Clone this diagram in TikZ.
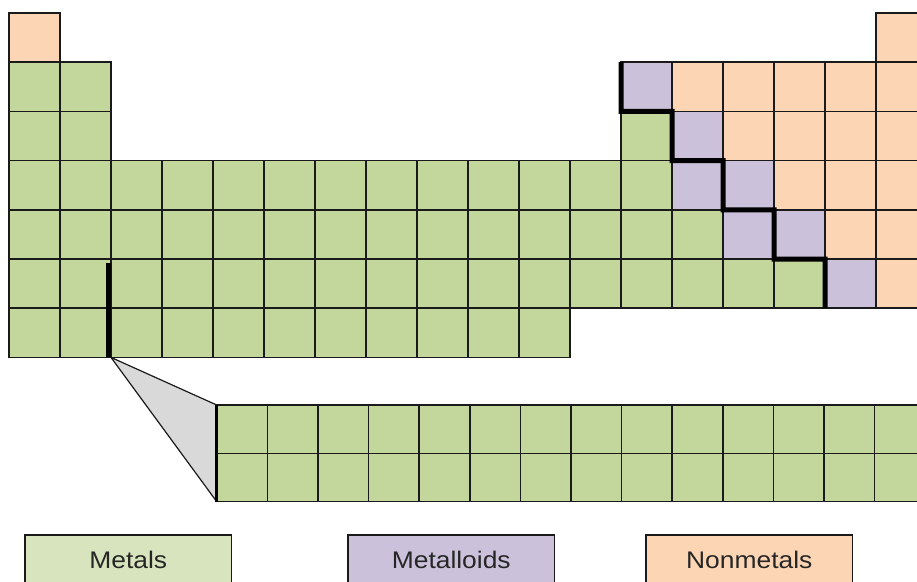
\documentclass[tikz,border=0pt]{standalone}
\usepackage{fontspec}
\newfontfamily\legendfont[FakeStretch=1.1]{Liberation Sans}
\usetikzlibrary{calc}
\definecolor{metal}{HTML}{C3D69B}
\definecolor{metalloid}{HTML}{CCC1DA}
\definecolor{nonmetal}{HTML}{FCD5B5}
\definecolor{metallegend}{HTML}{D7E4BD}
\definecolor{gridline}{HTML}{1A1A1A}
\definecolor{wedge}{HTML}{D9D9D9}
\definecolor{legendtext}{HTML}{262626}
\newcommand\pcell[3]{\node[cell, fill=#3] (c-#1-#2) at ({9+(#2-1)*51},{13+(#1-1)*49.2}) {};}
\begin{document}
\begin{tikzpicture}[x=1pt,y=-1pt,
  cell/.style={draw=gridline, line width=1.6pt, minimum width=51pt, minimum height=49.2pt,
    inner sep=0pt, outer sep=0pt, anchor=north west},
  lcell/.style={cell, minimum width=50.6pt, minimum height=48.3pt},
  heavy/.style={draw=black, line width=5pt},
  legendbox/.style={draw=gridline, line width=1.4pt, minimum width=206.5pt, minimum height=50pt,
    inner sep=0pt, outer sep=0pt, anchor=north west, text=legendtext,
    font=\fontsize{24}{28}\selectfont\legendfont}]
\useasboundingbox (0,0) rectangle (917,581);
\clip (0,0) rectangle (917,581);
\fill[white] (0,0) rectangle (917,581);
% row 1
\pcell{1}{1}{nonmetal}
\pcell{1}{18}{nonmetal}
% rows 2-3, groups 1-2
\foreach \r in {2,3}{\foreach \c in {1,2}{\pcell{\r}{\c}{metal}}}
% row 2
\pcell{2}{13}{metalloid}
\foreach \c in {14,...,18}{\pcell{2}{\c}{nonmetal}}
% row 3
\pcell{3}{13}{metal}
\pcell{3}{14}{metalloid}
\foreach \c in {15,...,18}{\pcell{3}{\c}{nonmetal}}
% rows 4-6 left part
\foreach \r in {4,5,6}{\foreach \c in {1,...,12}{\pcell{\r}{\c}{metal}}}
% row 4
\pcell{4}{13}{metal}
\pcell{4}{14}{metalloid}
\pcell{4}{15}{metalloid}
\foreach \c in {16,17,18}{\pcell{4}{\c}{nonmetal}}
% row 5
\pcell{5}{13}{metal}
\pcell{5}{14}{metal}
\pcell{5}{15}{metalloid}
\pcell{5}{16}{metalloid}
\pcell{5}{17}{nonmetal}
\pcell{5}{18}{nonmetal}
% row 6
\foreach \c in {13,...,16}{\pcell{6}{\c}{metal}}
\pcell{6}{17}{metalloid}
\pcell{6}{18}{nonmetal}
% row 7
\foreach \c in {1,...,11}{\pcell{7}{\c}{metal}}
% lanthanides / actinides
\foreach \r in {1,2}{\foreach \k in {1,...,14}{
  \node[lcell, fill=metal] (l-\r-\k) at ({216.7+(\k-1)*50.6},{405+(\r-1)*48.3}) {};}}
% wedge
\draw[fill=wedge, draw=gridline, line width=1.2pt, line join=round]
  (c-7-3.south west) -- (l-1-1.north west) -- (l-2-1.south west) -- cycle;
\draw[draw=black, line width=2.8pt] (l-1-1.north west) -- (l-2-1.south west);
% heavy separator between groups 2 and 3
\draw[heavy] ($(c-6-3.north west)+(-2.5,4)$) -- ($(c-7-3.south west)+(-2.5,0)$);
% staircase
\draw[heavy] (c-2-13.north west) -- (c-2-13.south west) -- (c-3-14.north west)
  -- (c-3-14.south west) -- (c-4-15.north west) -- (c-4-15.south west)
  -- (c-5-16.north west) -- (c-5-16.south west) -- (c-6-17.north west)
  -- (c-6-17.south west);
% legend
\node[legendbox, fill=metallegend] (lgm) at (25,535) {Metals};
\node[legendbox, fill=metalloid] (lgmd) at (348,535) {Metalloids};
\node[legendbox, fill=nonmetal] (lgn) at (646,535) {Nonmetals};
\end{tikzpicture}
\end{document}
